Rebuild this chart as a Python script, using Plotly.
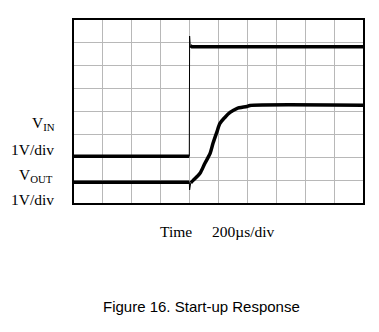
import plotly.graph_objects as go

# Oscilloscope capture, in screen divisions (10 x 8 grid), 1 V/div vertical, 200 us/div horizontal
vin_t = [0.0, 3.99, 4.0, 4.02, 4.08, 10.0]
vin_v = [2.04, 2.04, 7.3, 6.88, 6.83, 6.83]

vout_t = [0.0, 3.99, 4.0, 4.04, 4.13, 4.36, 4.53, 4.71, 4.81, 4.94, 5.05, 5.22, 5.40, 5.63, 5.98, 6.09, 10.0]
vout_v = [0.91, 0.91, 0.57, 0.88, 1.0, 1.30, 1.74, 2.17, 2.61, 3.09, 3.48, 3.74, 3.96, 4.13, 4.22, 4.26, 4.27]

# Channel ground-reference markers on the left edge
marker_levels = [vin_v[0], vout_v[0]]

SERIF = "Liberation Serif, Times New Roman, serif"
SANS = "Liberation Sans, Arial, sans-serif"

W, H = 379, 332
ML, MR, MT, MB = 74, 16, 20, 129
PW, PH = W - ML - MR, H - MT - MB

TRACE_W = 3.5   # noisy steady-state trace thickness
EDGE_W = 1.0    # fast transition edges show as a thin line


def px_to_paper(px, py):
    """Convert page pixel position to plot-area paper fractions."""
    return (px - ML) / PW, (H - MB - py) / PH


def add_line(fig, t, v, width, shape="linear"):
    fig.add_trace(go.Scatter(x=t, y=v, mode="lines",
                             line=dict(color="black", width=width, shape=shape, smoothing=0.8),
                             hoverinfo="skip"))


fig = go.Figure()

# VIN: low level, sharp edge with overshoot, high level
add_line(fig, vin_t[:2], vin_v[:2], TRACE_W)
add_line(fig, vin_t[1:4], vin_v[1:4], EDGE_W)
add_line(fig, vin_t[3:], vin_v[3:], TRACE_W)

# VOUT: low level, glitch at the input step, soft-start ramp and regulated level
add_line(fig, vout_t[:2], vout_v[:2], TRACE_W)
add_line(fig, vout_t[1:4], vout_v[1:4], EDGE_W)
add_line(fig, vout_t[3:], vout_v[3:], TRACE_W, shape="spline")

fig.add_trace(go.Scatter(x=[-0.19] * len(marker_levels), y=marker_levels, mode="markers",
                         marker=dict(symbol="triangle-right", size=9, color="black"),
                         cliponaxis=False, hoverinfo="skip"))

# Dotted centre graticule lines
fig.add_shape(type="line", x0=5, x1=5, y0=0, y1=8, xref="x", yref="y",
              line=dict(color="#8a8a8a", width=1, dash="dot"), layer="below")
fig.add_shape(type="line", x0=0, x1=10, y0=4, y1=4, xref="x", yref="y",
              line=dict(color="#8a8a8a", width=1, dash="dot"), layer="below")

axis_common = dict(showticklabels=False, ticks="", zeroline=False, dtick=1,
                   showgrid=True, gridcolor="#b8b8b8", gridwidth=1,
                   showline=True, linecolor="black", linewidth=1.5, mirror=True)
fig.update_xaxes(range=[0, 10], tick0=0, **axis_common)
fig.update_yaxes(range=[0, 8], tick0=0, **axis_common)

annotations = [
    dict(text="V<sub>IN</sub>", x=57, y=135, xanchor="right", yanchor="bottom"),
    dict(text="1V/div", x=56, y=149, xanchor="right", yanchor="middle"),
    dict(text="V<sub>OUT</sub>", x=55, y=187, xanchor="right", yanchor="bottom"),
    dict(text="1V/div", x=56, y=199, xanchor="right", yanchor="middle"),
    dict(text="Time", x=176, y=231, xanchor="center", yanchor="middle"),
    dict(text="200µs/div", x=243, y=231, xanchor="center", yanchor="middle"),
]
for a in annotations:
    xp, yp = px_to_paper(a["x"], a["y"])
    fig.add_annotation(text=a["text"], x=xp, y=yp,
                       xref="paper", yref="paper", showarrow=False,
                       xanchor=a["xanchor"], yanchor=a["yanchor"],
                       font=dict(family=SERIF, size=15.5, color="black"))

xp, yp = px_to_paper(201, 306)
fig.add_annotation(text="Figure 16. Start-up Response", x=xp, y=yp,
                   xref="paper", yref="paper", showarrow=False,
                   xanchor="center", yanchor="middle",
                   font=dict(family=SANS, size=15, color="black"))

fig.update_layout(width=W, height=H, autosize=False,
                  margin=dict(l=ML, r=MR, t=MT, b=MB),
                  paper_bgcolor="white", plot_bgcolor="white",
                  showlegend=False)

fig.write_html("out.html")
